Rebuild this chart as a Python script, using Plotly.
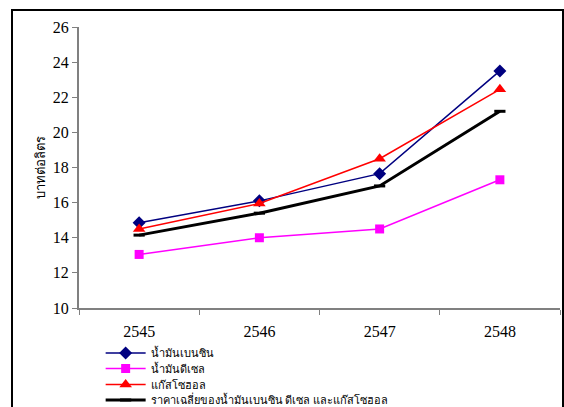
import plotly.graph_objects as go

years = ["2545", "2546", "2547", "2548"]
benzine = [14.85, 16.1, 17.65, 23.5]
diesel = [13.05, 14.0, 14.5, 17.3]
gasohol = [14.5, 15.95, 18.5, 22.45]
average = [14.15, 15.4, 16.95, 21.2]

names = ["น้ำมันเบนซิน", "น้ำมันดีเซล", "แก๊สโซฮอล", "ราคาเฉลี่ยของน้ำมันเบนซิน ดีเซล และแก๊สโซฮอล"]
y_title = "บาทต่อลิตร"

SERIF = "Liberation Serif, Tinos, Times New Roman, DejaVu Serif, serif"

# plot area in pixels: x 79..560, y 27..308
def py(p):
    return (308 - p) / 281

fig = go.Figure()
fig.add_trace(go.Scatter(x=years, y=benzine, name=names[0], mode="lines+markers", legend="legend",
                         line=dict(color="#000080", width=1.5),
                         marker=dict(symbol="diamond", size=10, color="#000080")))
fig.add_trace(go.Scatter(x=years, y=diesel, name=names[1], mode="lines+markers", legend="legend2",
                         line=dict(color="#FF00FF", width=1.5),
                         marker=dict(symbol="square", size=9, color="#FF00FF")))
fig.add_trace(go.Scatter(x=years, y=gasohol, name=names[2], mode="lines+markers", legend="legend3",
                         line=dict(color="#FF0000", width=1.5),
                         marker=dict(symbol="triangle-up", size=11, color="#FF0000")))
fig.add_trace(go.Scatter(x=years, y=average, name=names[3], mode="lines+markers", legend="legend4",
                         line=dict(color="#000000", width=3),
                         marker=dict(symbol="line-ew-open", size=8, color="#000000",
                                     line=dict(width=3, color="#000000"))))

leg_common = dict(x=0.045, xanchor="left", yanchor="middle",
                  font=dict(size=11, family=SERIF), bgcolor="rgba(0,0,0,0)", itemwidth=40)

fig.update_layout(
    width=564, height=407,
    margin=dict(l=79, r=4, t=27, b=99, autoexpand=False),
    paper_bgcolor="white", plot_bgcolor="white",
    font=dict(family=SERIF, color="black", size=16),
    showlegend=True,
    legend=dict(y=py(353), **leg_common),
    legend2=dict(y=py(368.5), **leg_common),
    legend3=dict(y=py(384.5), **leg_common),
    legend4=dict(y=py(400), **leg_common),
    xaxis=dict(type="category", showline=True, linecolor="#808080", linewidth=2,
               ticks="outside", ticklen=5, tickcolor="#808080", tickson="boundaries",
               showgrid=False, zeroline=False, range=[-0.5, 3.5], ticklabelstandoff=8,
               tickfont=dict(size=16, family=SERIF)),
    yaxis=dict(range=[10, 26], dtick=2, showline=True, linecolor="#808080", linewidth=2,
               ticks="outside", ticklen=5, tickcolor="#808080",
               showgrid=False, zeroline=False, tickfont=dict(size=16, family=SERIF),
               title=dict(text=y_title, font=dict(size=13, family=SERIF), standoff=4)),
    shapes=[dict(type="rect", xref="paper", yref="paper",
                 x0=(12 - 79) / 481, x1=(563 - 79) / 481,
                 y0=py(420), y1=py(10),
                 line=dict(color="black", width=2), fillcolor="rgba(0,0,0,0)", layer="below")],
)

fig.write_html("out.html", config={"displayModeBar": False},
               post_script="document.body.style.margin='0';document.body.style.overflow='hidden';")
